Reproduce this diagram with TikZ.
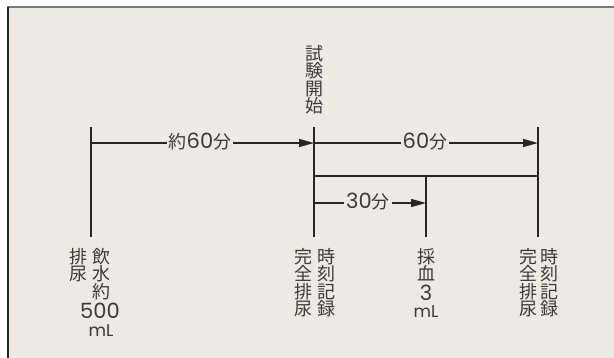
\documentclass[tikz,border=0pt]{standalone}
\usepackage{fontspec}
\setmainfont{Poppins}
\newfontfamily\cjk{Noto Sans CJK JP}
\usetikzlibrary{arrows.meta}
\definecolor{bg}{HTML}{EEEAE1}
\definecolor{ink}{HTML}{262626}
\definecolor{txt}{HTML}{3A3A3A}
\definecolor{rim}{HTML}{7A7A7A}
\newcommand\jpf{\cjk\fontsize{18}{17.5}\selectfont}
\newcommand\numf{\fontsize{21}{21}\selectfont}
\newcommand\smf{\fontsize{17}{17}\selectfont}
\begin{document}
\begin{tikzpicture}[x=1pt,y=-1pt,
  line/.style={draw=ink,line width=1.4pt},
  arr/.style={line,-{Triangle[length=15pt,width=8pt]}},
  vcol/.style={text=txt,font=\jpf,align=center,inner sep=0pt,anchor=north},
  lab/.style={fill=bg,text=txt,inner sep=2pt},
  num/.style={text=txt,inner sep=0pt,anchor=base,text depth=0pt}]
\useasboundingbox (0,0) rectangle (614,358);
\fill[white] (0,0) rectangle (614,358);
\fill[bg] (8,7) rectangle (614,358);
\draw[rim,line width=2pt] (7,7) -- (614,7);
\draw[ink,line width=1.6pt] (8,7) -- (8,358);
% coordinates
\coordinate (a1) at (91,127); \coordinate (a2) at (91,237);
\coordinate (b1) at (314,127); \coordinate (b2) at (314,237);
\coordinate (d1) at (538,127); \coordinate (d2) at (538,237);
\coordinate (c1) at (426,176); \coordinate (c2) at (426,237);
\coordinate (h1) at (314,176); \coordinate (h2) at (538,176);
\coordinate (t1) at (91,143); \coordinate (t2) at (314,143);
\coordinate (t3) at (538,143);
\coordinate (m1) at (314,203); \coordinate (m2) at (426,203);
% vertical lines
\draw[line] (a1) -- (a2);
\draw[line] (b1) -- (b2);
\draw[line] (d1) -- (d2);
\draw[line] (c1) -- (c2);
\draw[line] (h1) -- (h2);
% arrows
\draw[arr] (t1) -- (t2);
\draw[arr] (t2) -- (t3);
\draw[arr] (m1) -- (m2);
\node[lab] (l1) at (200,142) {{\jpf 約}{\numf 60}{\jpf 分}};
\node[lab] (l2) at (425,142) {{\numf 60}{\jpf 分}};
\node[lab] (l3) at (368,202) {{\numf 30}{\jpf 分}};
% top label
\node[vcol] (start) at (314,45) {試\\験\\開\\始};
% bottom labels
\node[vcol] (p1) at (78,248) {排\\尿};
\node[vcol,text depth=0pt] (p2) at (101,248) {飲\\水\\約};
\node[num,font=\numf] (p3) at (100,319) {500};
\node[num,font=\smf,text height=12pt] (p4) at (101,337) {mL};
\node[vcol] (q1) at (303,248) {完\\全\\排\\尿};
\node[vcol] (q2) at (326,248) {時\\刻\\記\\録};
\node[vcol] (r1) at (426,248) {採\\血};
\node[num,font=\numf] (r2) at (426,301) {3};
\node[num,font=\smf,text height=12pt] (r3) at (426,318) {mL};
\node[vcol] (s1) at (528,248) {完\\全\\排\\尿};
\node[vcol] (s2) at (549,248) {時\\刻\\記\\録};
\end{tikzpicture}
\end{document}
